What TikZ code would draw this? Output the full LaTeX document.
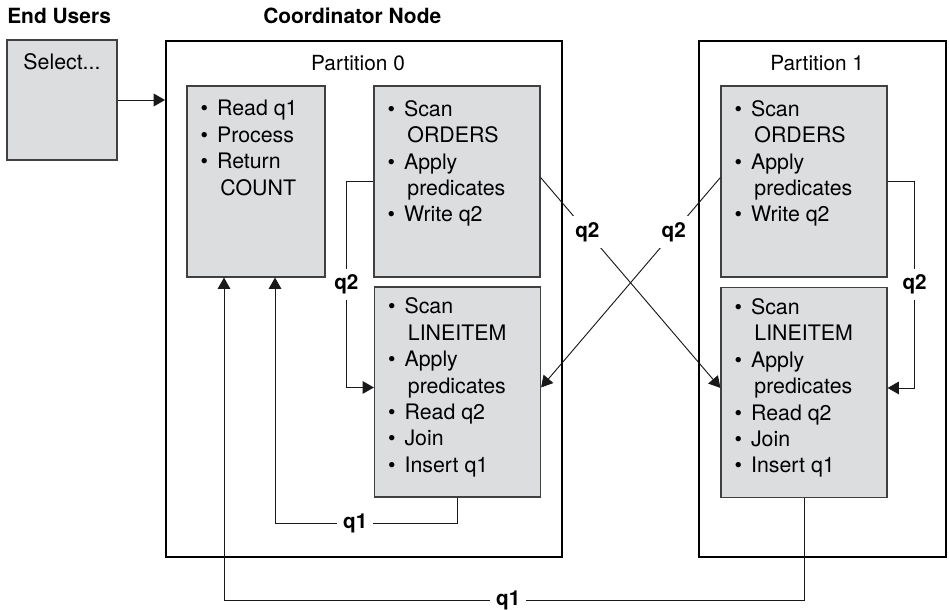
\documentclass[tikz,border=0pt]{standalone}
\usepackage{fontspec}
\setmainfont{TeX Gyre Heros}
\usepackage{tikz}
\usetikzlibrary{arrows.meta}
\usetikzlibrary{calc}

\definecolor{boxgray}{RGB}{220,221,223}
\newcommand{\bitem}{\textbullet\hspace{0.42em}}
\newcommand{\bcont}{\phantom{\textbullet\hspace{0.42em}}\kern2.5pt}

\begin{document}
\begin{tikzpicture}[x=0.75pt,y=-0.75pt]
            \tikzstyle{partbox}=[rectangle,draw=black,line width=1.4pt,inner sep=0pt,minimum height=387pt]
            \tikzstyle{stepbox}=[rectangle,draw=black!75,fill=boxgray,line width=0.9pt,inner sep=0pt]
            \tikzstyle{steptext}=[anchor=north west,align=left,inner sep=0pt,font=\fontsize{16}{19.8}\selectfont]
            \tikzstyle{plaintext}=[inner sep=0pt,font=\fontsize{15.6}{18}\selectfont]
            \tikzstyle{title}=[anchor=base west,inner sep=0pt,font=\bfseries\fontsize{15.7}{18}\selectfont]
            \tikzstyle{flow}=[draw=black!90,line width=0.7pt,-{Triangle[length=8.5pt,width=9.5pt]}]
            \tikzstyle{qlabel}=[fill=white,inner sep=4.5pt,font=\bfseries\fontsize{15.5}{18}\selectfont]

            \def\ordh{143.25pt}
            \def\stepw{124.5pt}

            \useasboundingbox (0,0) rectangle (949,610);

            % titles
            \node[title] (users) at (7,24) {End Users};
            \node[title] (coord) at (263,24) {Coordinator Node};

            % partitions
            \node[partbox,minimum width=297pt]    (part0) at (364,299)   {};
            \node[partbox,minimum width=185.25pt] (part1) at (822.5,299) {};
            \node[plaintext] (p0label) at ([xshift=-4.5pt,yshift=-17.25pt]part0.north) {Partition 0};
            \node[plaintext] (p1label) at ([xshift=-4pt,yshift=-17.25pt]part1.north) {Partition 1};

            % boxes
            \node[stepbox,minimum width=82.5pt,minimum height=90pt] (select) at (62,100) {};
            \node[stepbox,minimum width=103.5pt,minimum height=\ordh] (count) at (256,181.5) {};
            \node[stepbox,minimum width=\stepw,minimum height=\ordh]  (scan0) at (457,181.5) {};
            \node[stepbox,minimum width=\stepw,minimum height=157.5pt] (join0) at (457.5,392) {};
            \node[stepbox,minimum width=\stepw,minimum height=\ordh]  (scan1) at (804,181.5) {};
            \node[stepbox,minimum width=\stepw,minimum height=157.5pt] (join1) at (804,392.5) {};

            % box texts
            \node[plaintext,font=\fontsize{16}{18}\selectfont] (selecttext) at ([yshift=-16.5pt]select.north) {Select...};
            \node[steptext] (counttext) at ([xshift=10.5pt,yshift=-11pt]count.north west)
                {\bitem Read q1\\\bitem Process\\\bitem Return\\\bcont COUNT};
            \node[steptext] (scan0text) at ([xshift=10.5pt,yshift=-11pt]scan0.north west)
                {\bitem Scan\\\bcont ORDERS\\\bitem Apply\\\bcont predicates\\\bitem Write q2};
            \node[steptext] (scan1text) at ([xshift=10.5pt,yshift=-11pt]scan1.north west)
                {\bitem Scan\\\bcont ORDERS\\\bitem Apply\\\bcont predicates\\\bitem Write q2};
            \node[steptext] (join0text) at ([xshift=10.5pt,yshift=-8.5pt]join0.north west)
                {\bitem Scan\\\bcont LINEITEM\\\bitem Apply\\\bcont predicates\\\bitem Read q2\\\bitem Join\\\bitem Insert q1};
            \node[steptext] (join1text) at ([xshift=10.5pt,yshift=-8.5pt]join1.north west)
                {\bitem Scan\\\bcont LINEITEM\\\bitem Apply\\\bcont predicates\\\bitem Read q2\\\bitem Join\\\bitem Insert q1};

            % q2 flows
            \path[flow] (select.east) -- (select.east -| part0.west);
            \path[flow] (scan0.west) -- ++(-27,0) |- node[qlabel,pos=0.25] {q2} ([yshift=3.4pt]join0.west);
            \path[flow] (scan1.east) -- ++(27,0) |- node[qlabel,pos=0.25] {q2} ([yshift=3.4pt]join1.east);
            \path[flow] ([yshift=3pt]scan0.east) -- node[qlabel,pos=0.26] {q2} ([yshift=3.4pt]join1.west);
            \path[flow] ([yshift=3pt]scan1.west) -- node[qlabel,pos=0.26] {q2} ([yshift=3.4pt]join0.east);

            % q1 flows
            \coordinate (q1in)  at (275,523);
            \coordinate (q1out) at (224,600);
            \path[flow] (join0.south) |- node[qlabel,pos=0.78] {q1} (q1in) -- (q1in |- count.south);
            \path[flow] (join1.south) |- node[qlabel,pos=0.755] {q1} (q1out) -- (q1out |- count.south);
\end{tikzpicture}
\end{document}
